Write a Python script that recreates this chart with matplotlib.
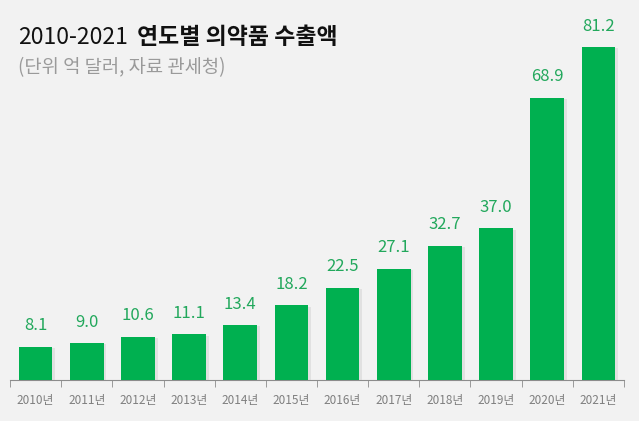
import matplotlib.pyplot as plt
import matplotlib.patheffects as pe
import numpy as np

years = ["2010년", "2011년", "2012년", "2013년", "2014년", "2015년",
         "2016년", "2017년", "2018년", "2019년", "2020년", "2021년"]
values = [8.1, 9.0, 10.6, 11.1, 13.4, 18.2, 22.5, 27.1, 32.7, 37.0, 68.9, 81.2]

plt.rcParams['font.family'] = ['Noto Sans CJK KR', 'DejaVu Sans']

bg = "#f2f2f2"
green = "#00b050"

fig = plt.figure(figsize=(6.39, 4.21), dpi=100, facecolor=bg)
ax = fig.add_axes([10 / 639, 41 / 421, 614 / 639, 380 / 421], facecolor=bg)

x = np.arange(len(years))
bars = ax.bar(x, values, width=0.66, color=green, zorder=3)
for b in bars:
    b.set_path_effects([pe.SimplePatchShadow(offset=(2, -1), shadow_rgbFace="#bbbbbb", alpha=0.3), pe.Normal()])

for xi, v in zip(x, values):
    ax.annotate(f"{v:.1f}", (xi, v), xytext=(0, 9), textcoords="offset points",
                ha="center", va="bottom", color="#22a85c", fontsize=12)

ax.set_xlim(-0.5, len(years) - 0.5)
ax.set_ylim(0, 380 / 4.1)

ax.set_xticks(x)
ax.set_xticklabels(years, color="#7f7f7f", fontsize=8.5)
ax.tick_params(axis="x", length=0, pad=10)
ax.set_xticks(np.arange(-0.5, len(years)), minor=True)
ax.tick_params(axis="x", which="minor", length=5, color="#8c8c8c", direction="out")
ax.set_yticks([])
for s in ["top", "right", "left"]:
    ax.spines[s].set_visible(False)
ax.spines["bottom"].set_color("#8c8c8c")

fig.text(18 / 639, 1 - 37 / 421, "2010-2021", fontsize=16.5, va="center", ha="left", color="#111111")
fig.text(137 / 639, 1 - 37 / 421, "연도별 의약품 수출액", fontsize=16.5, va="center", ha="left",
         fontweight="bold", color="#111111")
fig.text(18 / 639, 1 - 68 / 421, "(단위 억 달러, 자료 관세청)", fontsize=13.5, va="center", ha="left",
         color="#9a9a9a")

fig.savefig("out.png", dpi=100, facecolor=bg)
